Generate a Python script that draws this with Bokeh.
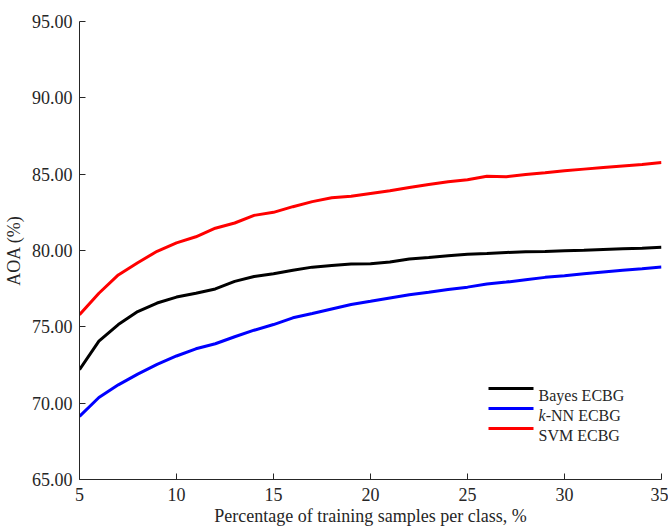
from bokeh.plotting import figure
from bokeh.models import Range1d, FixedTicker, BoxAnnotation, Label
from bokeh.embed import file_html
from bokeh.resources import INLINE

# Training samples per class (%)
pct = [5, 6, 7, 8, 9, 10, 11, 12, 13, 14, 15, 16, 17, 18, 19, 20,
       21, 22, 23, 24, 25, 26, 27, 28, 29, 30, 31, 32, 33, 34, 35]

# Average overall accuracy (%) for each classifier
bayes_ecbg = [72.20, 74.06, 75.15, 76.00, 76.56, 76.95, 77.20, 77.48, 77.98, 78.30,
              78.48, 78.70, 78.91, 79.02, 79.11, 79.13, 79.24, 79.44, 79.54, 79.65,
              79.75, 79.80, 79.87, 79.91, 79.93, 79.98, 80.02, 80.07, 80.11, 80.15, 80.22]
knn_ecbg = [69.13, 70.37, 71.20, 71.90, 72.54, 73.09, 73.56, 73.89, 74.35, 74.78,
            75.15, 75.59, 75.87, 76.17, 76.46, 76.67, 76.89, 77.10, 77.26, 77.45,
            77.60, 77.80, 77.93, 78.09, 78.24, 78.35, 78.48, 78.59, 78.70, 78.80, 78.92]
svm_ecbg = [75.80, 77.20, 78.40, 79.20, 79.95, 80.50, 80.90, 81.46, 81.80, 82.30,
            82.50, 82.87, 83.20, 83.45, 83.56, 83.74, 83.91, 84.13, 84.33, 84.50,
            84.63, 84.87, 84.83, 84.98, 85.09, 85.22, 85.33, 85.44, 85.54, 85.63, 85.76]

x_ticks = [5, 10, 15, 20, 25, 30, 35]
y_ticks = [65, 70, 75, 80, 85, 90, 95]

FONT = "Liberation Serif"
AXIS_COLOR = "#262626"

p = figure(width=668, height=529, output_backend="svg", toolbar_location=None,
           x_range=Range1d(5, 35), y_range=Range1d(65, 95),
           min_border_left=79, min_border_right=7, min_border_top=21, min_border_bottom=50)
p.outline_line_color = None
p.grid.visible = False
p.background_fill_color = "white"
p.border_fill_color = "white"

series = [
    (bayes_ecbg, "#000000"),
    (knn_ecbg, "#0000ff"),
    (svm_ecbg, "#ff0000"),
]
for ys, color in series:
    p.line(pct, ys, line_color=color, line_width=3)

for ax in (p.xaxis[0], p.yaxis[0]):
    ax.axis_line_color = AXIS_COLOR
    ax.major_tick_line_color = AXIS_COLOR
    ax.minor_tick_line_color = None
    ax.major_tick_in = 6
    ax.major_tick_out = 0
    ax.major_label_text_font = FONT
    ax.major_label_text_font_size = "18px"
    ax.major_label_text_color = AXIS_COLOR
    ax.axis_label_text_font = FONT
    ax.axis_label_text_font_size = "18px"
    ax.axis_label_text_font_style = "normal"
    ax.axis_label_text_color = AXIS_COLOR

p.xaxis.ticker = FixedTicker(ticks=x_ticks)
p.yaxis.ticker = FixedTicker(ticks=y_ticks)
p.yaxis.major_label_overrides = {t: f"{t:.2f}" for t in y_ticks}
p.xaxis.major_label_standoff = 8
p.yaxis.major_label_standoff = 7
p.xaxis.axis_label = "Percentage of training samples per class, %"
p.yaxis.axis_label = "AOA (%)"
p.xaxis.axis_label_standoff = 2
p.yaxis.axis_label_standoff = 5

# Legend: swatches and labels placed in screen units inside the frame
legend_rows = [("Bayes ECBG", "#000000"), ("k-NN ECBG", "#0000ff"), ("SVM ECBG", "#ff0000")]
sw_left, sw_right, text_x = 409, 454, 459
row_y = [91, 71, 51]
for (name, color), yy in zip(legend_rows, row_y):
    p.add_layout(BoxAnnotation(left=sw_left, right=sw_right, bottom=yy - 1.5, top=yy + 1.5,
                               left_units="screen", right_units="screen",
                               bottom_units="screen", top_units="screen",
                               fill_color=color, fill_alpha=1.0, line_color=None))
    common = dict(y=yy - 6.5, x_units="screen", y_units="screen", text_font=FONT,
                  text_font_size="16px", text_color=AXIS_COLOR, text_baseline="alphabetic")
    if name.startswith("k-"):
        p.add_layout(Label(x=text_x, text="k", text_font_style="italic", **common))
        p.add_layout(Label(x=text_x + 7.2, text=name[1:], **common))
    else:
        p.add_layout(Label(x=text_x, text=name, **common))

open("out.html", "w").write(file_html(p, INLINE))
